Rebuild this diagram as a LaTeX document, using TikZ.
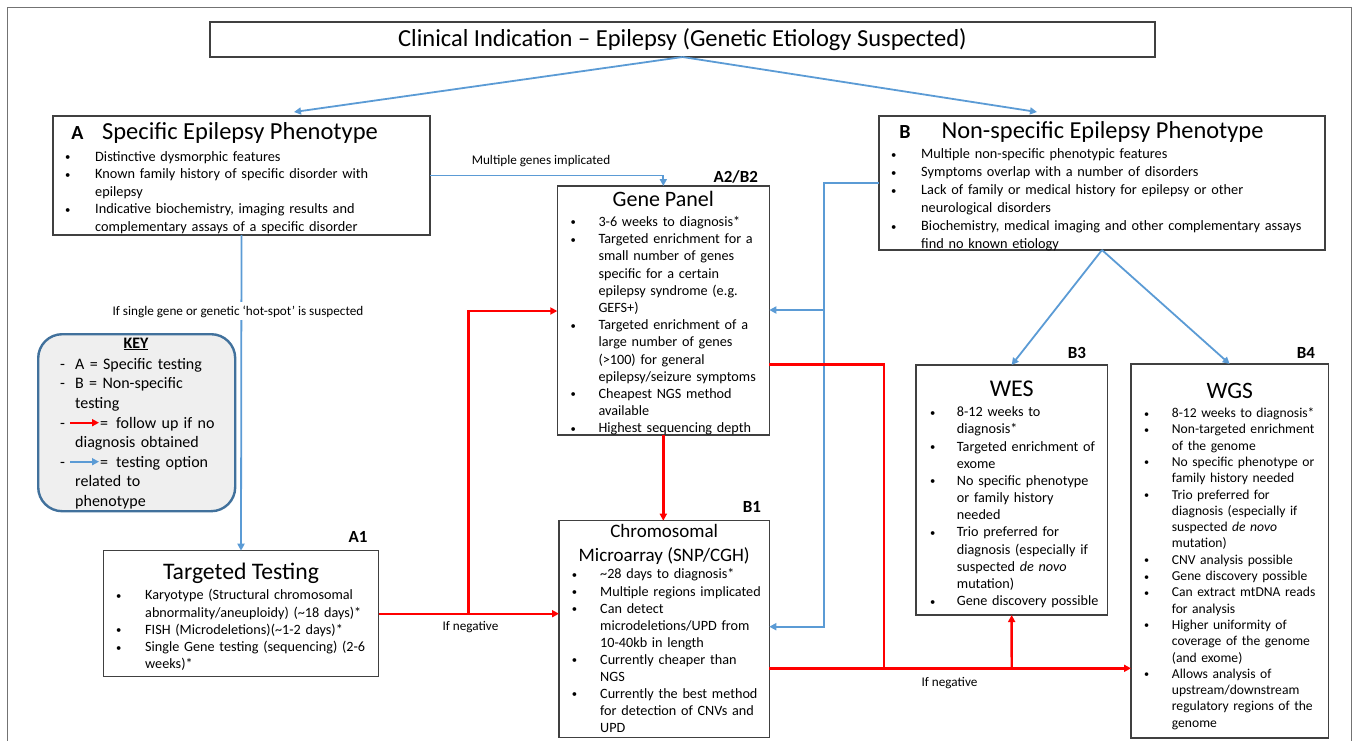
\documentclass[tikz,border=0pt]{standalone}
\usepackage{fontspec}
\setmainfont{Carlito}
\usetikzlibrary{arrows.meta}
\definecolor{cblue}{HTML}{5B9BD5}
\definecolor{kborder}{HTML}{41719C}
\definecolor{kfill}{HTML}{EFEFEF}
\newlength\bo \newlength\bi
\newcommand{\bul}[1]{\par\noindent\hangindent=\bi\hangafter=1\makebox[\bi][l]{\hspace*{\bo}\strut\raisebox{0.5pt}{\scalebox{0.75}{\textbullet}}}\ignorespaces#1\par}
\newcommand{\dsh}[1]{\par\noindent\hangindent=\bi\hangafter=1\makebox[\bi][l]{\hspace*{\bo}\strut-}\ignorespaces#1\par}
\newcommand{\fs}[4]{\fontsize{#1}{#2}\selectfont\setlength\bo{#3pt}\setlength\bi{#4pt}}
\begin{document}
\begin{tikzpicture}[x=1pt,y=-1pt,
  box/.style={draw=black!75,line width=1.3pt,anchor=north west,inner sep=0pt,outer sep=0pt},
  txt/.style={anchor=north west,inner sep=0pt,align=left},
  ttl/.style={anchor=base,inner sep=0pt},
  lbl/.style={anchor=base,inner sep=0pt,font=\fontsize{17}{20}\selectfont\bfseries},
  note/.style={anchor=base,inner sep=1pt,font=\fontsize{13.2}{16}\selectfont},
  bl/.style={draw=cblue,line width=1.8pt,-{Triangle[length=7pt,width=7pt]}},
  rd/.style={draw=red,line width=2.4pt,-{Triangle[length=7pt,width=7pt]}},
  rdl/.style={draw=red,line width=2.4pt}]
\useasboundingbox (0,0) rectangle (1358,740);
\draw[black!55,line width=0.8pt] (7,745) -- (7,7) -- (1351,7) -- (1351,745);

% boxes
\node[box,minimum width=945pt,minimum height=35pt,font=\fontsize{24.5}{28}\selectfont] (title) at (210,22) {Clinical Indication – Epilepsy (Genetic Etiology Suspected)};
\node[box,minimum width=377pt,minimum height=119pt] (A) at (53,116) {};
\node[box,minimum width=446pt,minimum height=134pt] (B) at (879,116) {};
\node[box,minimum width=212pt,minimum height=249pt] (gp) at (557.3,186) {};
\node[box,minimum width=275.4pt,minimum height=126pt] (TT) at (103.3,550.7) {};
\node[box,minimum width=210.3pt,minimum height=216.5pt] (cm) at (559,520.7) {};
\node[box,minimum width=191.3pt,minimum height=250pt] (wes) at (916,365) {};
\node[box,minimum width=197.3pt,minimum height=374pt] (wgs) at (1131,364) {};
\node[draw=kborder,fill=kfill,line width=2.4pt,rounded corners=24pt,anchor=north west,inner sep=0pt,minimum width=197pt,minimum height=177pt] (key) at (37,333) {};

% titles
\node[ttl,font=\fontsize{24.5}{28}\selectfont] (Att) at (240,139) {Specific Epilepsy Phenotype};
\node[ttl,font=\fontsize{20}{22}\selectfont\bfseries] (Alt) at (77.5,139) {A};
\node[ttl,font=\fontsize{24.4}{28}\selectfont] (Btt) at (1102.5,138) {Non-specific Epilepsy Phenotype};
\node[ttl,font=\fontsize{20}{22}\selectfont\bfseries] (Blt) at (905,138) {B};
\node[ttl,font=\fontsize{22}{26}\selectfont] (gpt) at (663.3,206.6) {Gene Panel};
\node[ttl,font=\fontsize{19}{23}\selectfont] (cmt1) at (664.2,537) {Chromosomal};
\node[ttl,font=\fontsize{19}{23}\selectfont] (cmt2) at (664.2,561.3) {Microarray (SNP/CGH)};
\node[ttl,font=\fontsize{23.7}{27}\selectfont] (TTt) at (241,579.8) {Targeted Testing};
\node[ttl,font=\fontsize{24}{28}\selectfont] (west) at (1011.7,396.5) {WES};
\node[ttl,font=\fontsize{23.5}{28}\selectfont] (wgst) at (1229.7,398) {WGS};
\node[ttl,font=\fontsize{16}{19}\selectfont\bfseries] (keyt) at (136,348) {\underline{KEY}};

% labels
\node[lbl] (lA2) at (735.7,182) {A2/B2};
\node[lbl] (lB1) at (752,512.6) {B1};
\node[lbl] (lA1) at (358,542) {A1};
\node[lbl] (lB3) at (1077,358) {B3};
\node[lbl] (lB4) at (1306,358) {B4};

% body texts
\node[txt,text width=377pt,font={\fs{14.3}{17.4}{12}{42}}] (Atx) at (53,143.8) {%
\bul{Distinctive dysmorphic features}
\bul{Known family history of specific disorder with\newline epilepsy}
\bul{Indicative biochemistry, imaging results and\newline complementary assays of a specific disorder}};
\node[txt,text width=446pt,font={\fs{14.3}{18}{12}{42}}] (Btx) at (879,140.5) {%
\bul{Multiple non-specific phenotypic features}
\bul{Symptoms overlap with a number of disorders}
\bul{Lack of family or medical history for epilepsy or other\newline neurological disorders}
\bul{Biochemistry, medical imaging and other complementary assays\newline find no known etiology}};
\node[txt,text width=212pt,font={\fs{14.2}{17.2}{13}{41}}] (gptx) at (557.3,209) {%
\bul{3-6 weeks to diagnosis*}
\bul{Targeted enrichment for a\newline small number of genes\newline specific for a certain\newline epilepsy syndrome (e.g.\newline GEFS+)}
\bul{Targeted enrichment of a\newline large number of genes\newline (>100) for general\newline epilepsy/seizure symptoms}
\bul{Cheapest NGS method\newline available}
\bul{Highest sequencing depth}};
\node[txt,text width=210pt,font={\fs{14.2}{17.05}{12.7}{41}}] (cmtx) at (559,561.7) {%
\bul{\textasciitilde28 days to diagnosis*}
\bul{Multiple regions implicated}
\bul{Can detect\newline microdeletions/UPD from\newline 10-40kb in length}
\bul{Currently cheaper than\newline NGS}
\bul{Currently the best method\newline for detection of CNVs and\newline UPD}};
\node[txt,text width=275pt,font={\fs{14.2}{17.3}{12.7}{41.7}}] (TTtx) at (103.3,582.2) {%
\bul{Karyotype (Structural chromosomal\newline abnormality/aneuploidy) (\textasciitilde18 days)*}
\bul{FISH (Microdeletions)(\textasciitilde1-2 days)*}
\bul{Single Gene testing (sequencing) (2-6\newline weeks)*}};
\node[txt,text width=191pt,font={\fs{14.2}{17.18}{14}{40.7}}] (westx) at (916,399.3) {%
\bul{8-12 weeks to\newline diagnosis*}
\bul{Targeted enrichment of\newline exome}
\bul{No specific phenotype\newline or family history\newline needed}
\bul{Trio preferred for\newline diagnosis (especially if\newline suspected \textit{de novo}\newline mutation)}
\bul{Gene discovery possible}};
\node[txt,text width=197pt,font={\fs{13.6}{16.3}{13}{40.7}}] (wgstx) at (1131,401) {%
\bul{8-12 weeks to diagnosis*}
\bul{Non-targeted enrichment\newline of the genome}
\bul{No specific phenotype or\newline family history needed}
\bul{Trio preferred for\newline diagnosis (especially if\newline suspected \textit{de novo}\newline mutation)}
\bul{CNV analysis possible}
\bul{Gene discovery possible}
\bul{Can extract mtDNA reads\newline for analysis}
\bul{Higher uniformity of\newline coverage of the genome\newline (and exome)}
\bul{Allows analysis of\newline upstream/downstream\newline regulatory regions of the\newline genome}};
\node[txt,text width=197pt,font={\fs{16}{19.6}{23}{38}}] (keytx) at (37,349.4) {%
\dsh{A = Specific testing}
\dsh{B = Non-specific\newline testing}
\dsh{\hspace*{25pt}=\hspace*{8pt}follow up if no\newline diagnosis obtained}
\dsh{\hspace*{25pt}=\hspace*{8pt}testing option\newline related to\newline phenotype}};
% key arrows
\coordinate (kr1) at (70,422.7); \coordinate (kr2) at (99,422.7);
\coordinate (kb1) at (70,461.7); \coordinate (kb2) at (99,461.7);
\draw[rd,line width=2pt] (kr1) -- (kr2);
\draw[bl,line width=1.6pt] (kb1) -- (kb2);

% blue connectors
\coordinate (tA) at (294,112);
\coordinate (tB) at (1037,112);
\draw[bl] (title.south) -- (tA);
\draw[bl] (title.south) -- (tB);
\draw[bl] (A.east) -| (gp.north);
\node[note] (mg) at (541,164) {Multiple genes implicated};
\draw[bl] (A.south) -- (TT.north);
\node[note,fill=white,inner sep=3pt] (sg) at (238,315) {If single gene or genetic ‘hot-spot’ is suspected};
\coordinate (bv1) at (824.3,183);
\coordinate (bv2) at (824.3,626.7);
\coordinate (bv3) at (824.3,310);
\draw[bl] (B.west) -- (bv1) -- (bv2) -- (bv2 -| cm.east);
\draw[bl] (bv3) -- (bv3 -| gp.east);
\draw[bl] (B.south) -- (wes.north);
\draw[bl] (B.south) -- (wgs.north);

% red connectors
\coordinate (rb1) at (468.3,613.7);
\coordinate (rb2) at (468.3,311);
\draw[rd] (TT.east) -- (TT.east -| cm.west);
\draw[rd] (rb1) -- (rb2) -- (rb2 -| gp.west);
\node[note] (neg1) at (470.5,630) {If negative};
\draw[rd] (gp.south) -- (gp.south |- cm.north);
\coordinate (r1) at (884,364.3);
\coordinate (r2) at (884,668.3);
\coordinate (r3) at (1011.7,668.3);
\draw[rdl] (r1 -| gp.east) -- (r1) -- (r2);
\draw[rd] (r2 -| cm.east) -- (r2 -| wgs.west);
\draw[rd] (r3) -- (wes.south);
\node[note] (neg2) at (949.5,686.7) {If negative};
\end{tikzpicture}
\end{document}
